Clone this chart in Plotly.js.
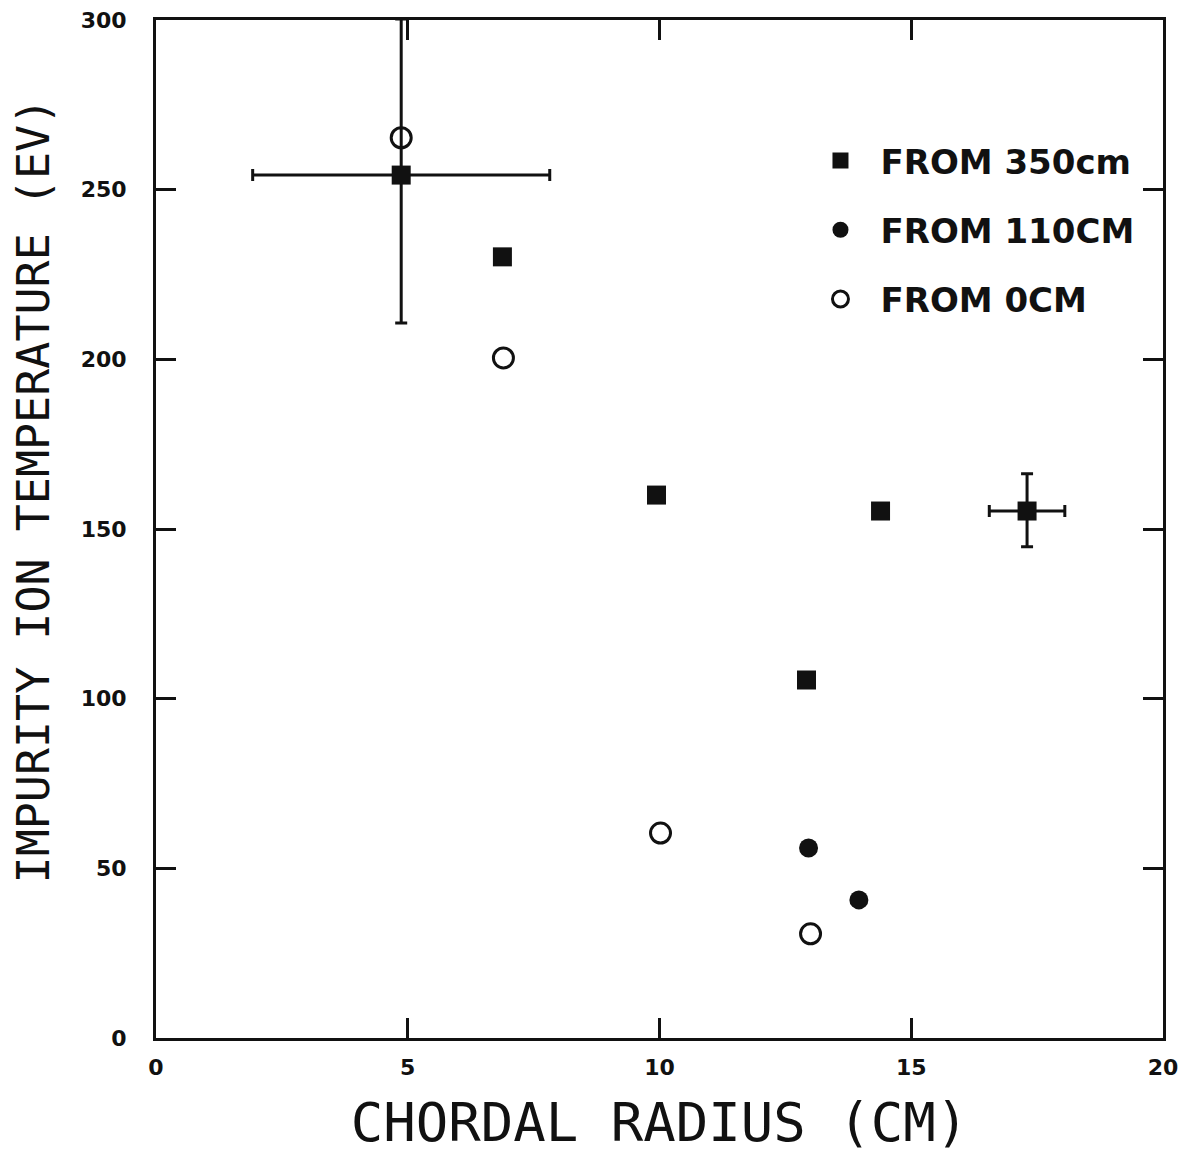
<!DOCTYPE html>
<html>
<head>
<meta charset="utf-8">
<script src="https://cdn.plot.ly/plotly-3.0.1.min.js"></script>
<style>html,body{margin:0;padding:0;background:#fff;}</style>
</head>
<body>
<div id="chart" style="width:1188px;height:1156px;"></div>
<script>
// FROM 350cm (filled squares)
const sqX = [4.87, 6.88, 9.94, 14.39, 12.92, 17.30];
const sqY = [254.3, 230.2, 160.0, 155.3, 105.5, 155.3];
const sqErrXPlus = [2.95, 0, 0, 0, 0, 0.75];
const sqErrXMinus = [2.95, 0, 0, 0, 0, 0.75];
const sqErrYPlus = [46, 0, 0, 0, 0, 11];
const sqErrYMinus = [43.6, 0, 0, 0, 0, 10.5];
// FROM 110cm (filled circles)
const fcX = [12.96, 13.96];
const fcY = [56.0, 40.7];
// FROM 0cm (open circles)
const ocX = [4.87, 6.90, 10.02, 13.0];
const ocY = [265.3, 200.4, 60.4, 30.7];

const seriesNames = ['FROM 350cm', 'FROM 110CM', 'FROM 0CM'];
const xTickVals = [0, 5, 10, 15, 20];
const yTickVals = [0, 50, 100, 150, 200, 250, 300];
const xTitle = 'CHORDAL RADIUS (CM)';
const yTitle = 'IMPURITY ION TEMPERATURE (EV)';

const ink = '#111111';

const traces = [
  {
    x: sqX, y: sqY, type: 'scatter', mode: 'markers', name: seriesNames[0],
    legendgroup: 'a',
    marker: {symbol: 'square', size: 19, color: ink, line: {width: 0}},
    error_x: {type: 'data', symmetric: false, array: sqErrXPlus, arrayminus: sqErrXMinus,
              color: ink, thickness: 3, width: 6},
    error_y: {type: 'data', symmetric: false, array: sqErrYPlus, arrayminus: sqErrYMinus,
              color: ink, thickness: 3, width: 6},
    cliponaxis: true
  },
  {
    x: fcX, y: fcY, type: 'scatter', mode: 'markers', name: seriesNames[1],
    legendgroup: 'b',
    marker: {symbol: 'circle', size: 19, color: ink, line: {width: 0}}
  },
  {
    x: ocX, y: ocY, type: 'scatter', mode: 'markers', name: seriesNames[2],
    legendgroup: 'c',
    marker: {symbol: 'circle-open', size: 20, color: ink, line: {width: 3, color: ink}}
  }
];

const tickFont = {family: 'DejaVu Sans', size: 22, color: ink, weight: 'bold'};

const layout = {
  width: 1188, height: 1156,
  paper_bgcolor: '#ffffff', plot_bgcolor: '#ffffff',
  margin: {l: 156, r: 25, t: 20, b: 118, autoexpand: false},
  showlegend: true,
  legend: {
    x: 0.64, y: 0.89, xanchor: 'left', yanchor: 'top',
    bgcolor: 'rgba(0,0,0,0)', borderwidth: 0,
    font: {family: 'DejaVu Sans', size: 34, color: ink, weight: 'bold'},
    traceorder: 'grouped', tracegroupgap: 22, itemwidth: 70
  },
  xaxis: {
    range: [0, 20], tickvals: xTickVals, ticktext: xTickVals.map(String),
    ticks: 'inside', ticklen: 20, tickwidth: 3, tickcolor: ink,
    showline: true, linewidth: 3, linecolor: ink, mirror: 'ticks',
    showgrid: false, zeroline: false, tickfont: tickFont, ticklabelstandoff: 8,
    title: {text: xTitle, font: {family: 'DejaVu Sans Mono', size: 54, color: ink}, standoff: 24}
  },
  yaxis: {
    range: [0, 300], tickvals: yTickVals, ticktext: yTickVals.map(String),
    ticks: 'inside', ticklen: 20, tickwidth: 3, tickcolor: ink,
    showline: true, linewidth: 3, linecolor: ink, mirror: 'ticks',
    showgrid: false, zeroline: false, tickfont: tickFont, ticklabelstandoff: 22
  },
  annotations: [{
    text: yTitle, textangle: -90, showarrow: false,
    xref: 'paper', yref: 'paper', x: -0.122, y: 0.538,
    xanchor: 'center', yanchor: 'middle',
    font: {family: 'DejaVu Sans Mono', size: 45, color: ink}
  }]
};

Plotly.newPlot('chart', traces, layout, {displayModeBar: false, staticPlot: true});
</script>
</body>
</html>
